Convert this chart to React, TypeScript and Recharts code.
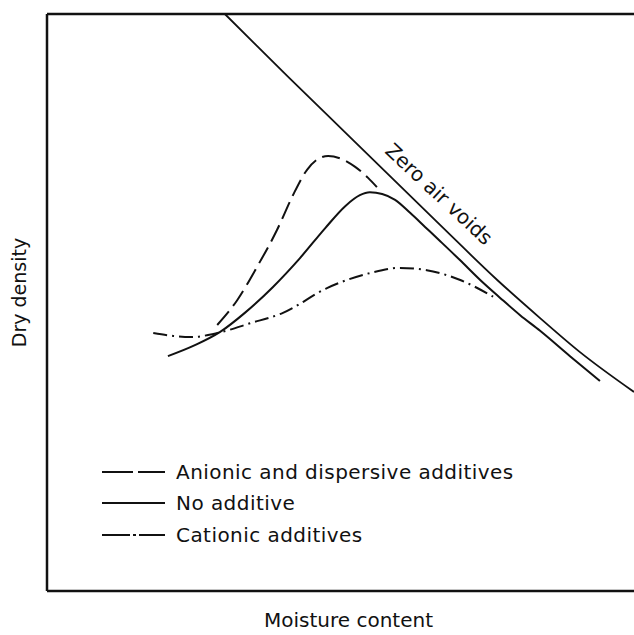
import React from 'react';
import { LineChart, Line, XAxis, YAxis, ReferenceLine, ReferenceDot } from 'recharts';

// moisture / dry density in arbitrary units (0-100)
const zavMoisture = [30.3, 41.0, 52.1, 67.0, 76.7, 84.0, 90.8, 100];
const zavDensity = [100, 89.2, 78.2, 63.4, 53.9, 47.3, 41.4, 34.5];

const noneMoisture = [20.6, 25.2, 29.5, 33.7, 38.5, 43.1, 47.4, 50.8, 53.3, 55.0, 57.1, 59.3, 61.9, 64.4, 66.9, 70.3, 73.8, 77.2, 80.6, 84.0, 89.1, 94.2];
const noneDensity = [40.7, 42.6, 44.9, 48.2, 52.7, 57.7, 62.9, 66.7, 68.6, 69.1, 68.8, 67.8, 65.5, 63.1, 60.7, 57.4, 53.9, 50.8, 47.8, 45.1, 40.7, 36.4];

const anionicMoisture = [29.0, 32.4, 35.8, 39.2, 41.9, 44.3, 46.2, 47.9, 49.9, 52.5, 54.7, 56.2];
const anionicDensity = [46.1, 50.4, 56.2, 62.6, 68.6, 73.0, 74.9, 75.4, 75.0, 73.5, 71.6, 70.0];

const cationicMoisture = [18.1, 21.5, 24.4, 29.0, 34.6, 40.2, 47.7, 55.0, 60.1, 64.7, 70.4, 76.0];
const cationicDensity = [44.7, 44.2, 44.0, 44.7, 46.4, 48.2, 52.5, 55.1, 56.0, 55.6, 53.9, 51.0];

const legendItems = [
  { name: 'Anionic and dispersive additives', dash: '31 5' },
  { name: 'No additive', dash: undefined },
  { name: 'Cationic additives', dash: '28 3 3 3' },
];

const zip = (xs: number[], ys: number[]) => xs.map((x, i) => ({ x, y: ys[i] }));

const FONT = '"DejaVu Sans", sans-serif';
const INK = '#111';

const LegendBox = () => (
  <div style={{ position: 'absolute', left: 100, top: 456, fontFamily: FONT, fontSize: 20, letterSpacing: 0.45, color: INK }}>
    {legendItems.map((it) => (
      <div key={it.name} style={{ display: 'flex', alignItems: 'center', height: 31.5 }}>
        <svg width={66} height={20} style={{ marginRight: 10 }}>
          <line x1={2} y1={10} x2={65} y2={10} stroke={INK} strokeWidth={2} strokeDasharray={it.dash} />
        </svg>
        <span>{it.name}</span>
      </div>
    ))}
  </div>
);

const App: React.FC = () => {
  return (
    <div style={{ position: 'absolute', left: 0, top: 0, width: 634, height: 635, background: '#fff' }}>
      <LineChart width={634} height={635} margin={{ top: 14, right: 0, bottom: 0, left: 0 }}>
        <XAxis
          type="number"
          dataKey="x"
          domain={[0, 100]}
          height={44}
          tick={false}
          tickLine={false}
          axisLine={{ stroke: INK, strokeWidth: 2.5 }}
          label={{
            content: ({ viewBox }: any) => (
              <text x={viewBox.x + viewBox.width / 2 + 8} y={viewBox.y + 36} textAnchor="middle"
                fontFamily={FONT} fontSize={20} fill={INK}>
                Moisture content
              </text>
            ),
          }}
        />
        <YAxis
          type="number"
          dataKey="y"
          domain={[0, 100]}
          width={47}
          tick={false}
          tickLine={false}
          axisLine={{ stroke: INK, strokeWidth: 2.5 }}
          label={{
            content: ({ viewBox }: any) => {
              const cx = 26;
              const cy = viewBox.y + viewBox.height / 2 - 10;
              return (
                <text x={cx} y={cy} textAnchor="middle" transform={`rotate(-90 ${cx} ${cy})`}
                  fontFamily={FONT} fontSize={19} fill={INK}>
                  Dry density
                </text>
              );
            },
          }}
        />
        <ReferenceLine y={100} stroke={INK} strokeWidth={2.5} />
        <Line data={zip(zavMoisture, zavDensity)} dataKey="y" type="monotone" stroke={INK}
          strokeWidth={1.8} dot={false} isAnimationActive={false} />
        <Line data={zip(noneMoisture, noneDensity)} dataKey="y" type="monotone" stroke={INK}
          strokeWidth={2} dot={false} isAnimationActive={false} />
        <Line data={zip(anionicMoisture, anionicDensity)} dataKey="y" type="monotone" stroke={INK}
          strokeWidth={2} strokeDasharray="18 7" dot={false} isAnimationActive={false} />
        <Line data={zip(cationicMoisture, cationicDensity)} dataKey="y" type="monotone" stroke={INK}
          strokeWidth={2} strokeDasharray="14 5 2 5" dot={false} isAnimationActive={false} />
        <ReferenceDot
          x={66.8}
          y={68.8}
          r={0}
          stroke="none"
          label={{
            content: ({ viewBox }: any) => {
              const cx = viewBox.x + (viewBox.width || 0) / 2;
              const cy = viewBox.y + (viewBox.height || 0) / 2;
              return (
                <text x={cx} y={cy} dy={7} textAnchor="middle" transform={`rotate(43 ${cx} ${cy})`}
                  fontFamily={FONT} fontSize={20} fill={INK}>
                  Zero air voids
                </text>
              );
            },
          }}
        />
      </LineChart>
      <LegendBox />
    </div>
  );
};

export default App;
